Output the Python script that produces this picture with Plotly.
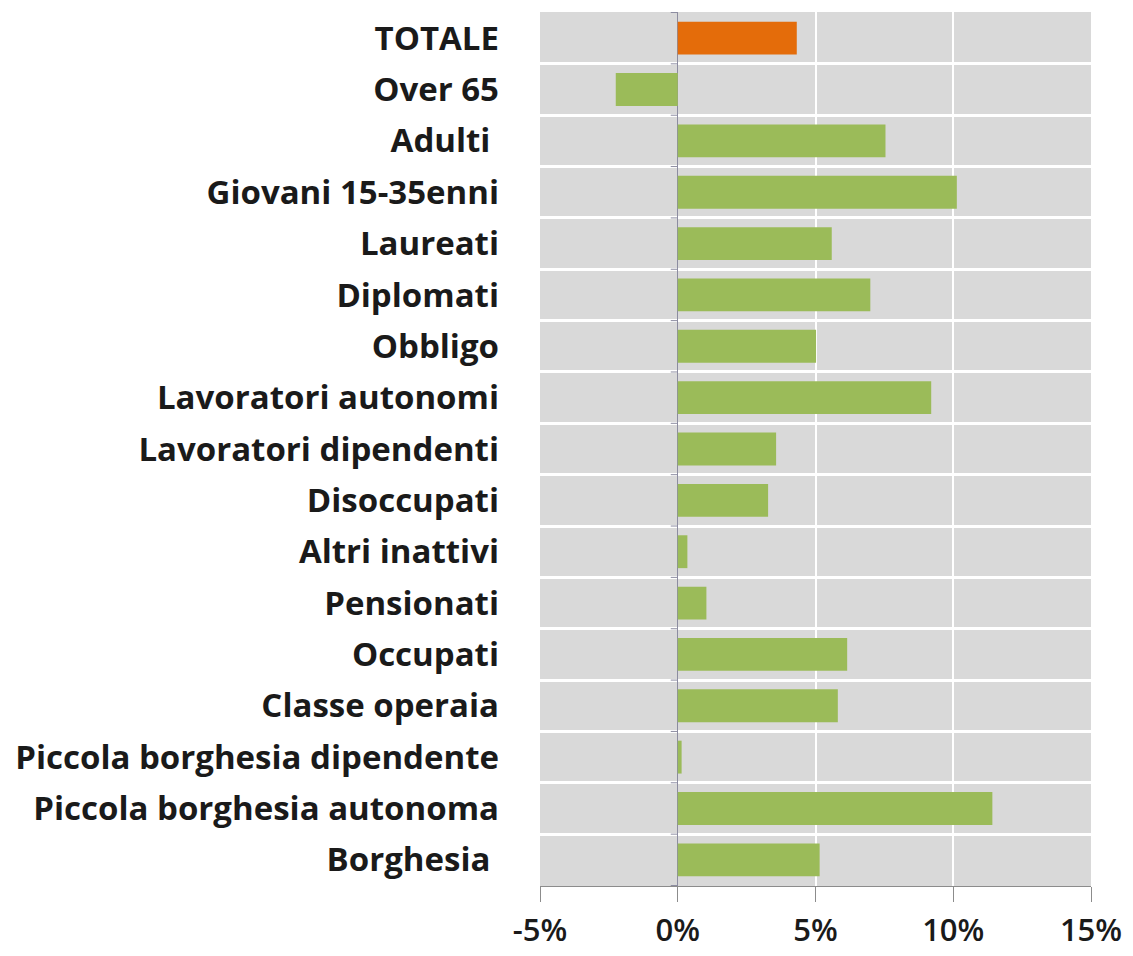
import plotly.graph_objects as go

categories = ["TOTALE", "Over 65", "Adulti ", "Giovani 15-35enni", "Laureati", "Diplomati",
              "Obbligo", "Lavoratori autonomi", "Lavoratori dipendenti", "Disoccupati",
              "Altri inattivi", "Pensionati", "Occupati", "Classe operaia",
              "Piccola borghesia dipendente", "Piccola borghesia autonoma", "Borghesia "]
values = [4.32, -2.25, 7.54, 10.13, 5.59, 6.99, 5.02, 9.2, 3.57, 3.28,
          0.35, 1.04, 6.15, 5.81, 0.14, 11.42, 5.15]
x_tickvals = [-5, 0, 5, 10, 15]
x_ticktext = ["-5%", "0%", "5%", "10%", "15%"]

GREEN = "#9BBB59"
ORANGE = "#E46C0A"
colors = [ORANGE if c == "TOTALE" else GREEN for c in categories]

fig = go.Figure(go.Bar(
    x=values, y=categories, orientation="h",
    marker=dict(color=colors, line=dict(width=0)),
    width=0.64,
))

shapes = []
for i in range(len(categories) + 1):
    shapes.append(dict(type="line", xref="x", yref="y", xsizemode="pixel", xanchor=0,
                       x0=-7, x1=0, y0=i - 0.5, y1=i - 0.5,
                       line=dict(color="#8C8CA0", width=1), layer="above"))

fig.update_layout(
    width=1133, height=956,
    margin=dict(l=532, r=50, t=4, b=78),
    plot_bgcolor="#D9D9D9", paper_bgcolor="white",
    showlegend=False,
    shapes=shapes,
    font=dict(family="'Open Sans', sans-serif", color="#1a1a1a"),
    xaxis=dict(
        range=[-5, 15], tickvals=x_tickvals, ticktext=x_ticktext,
        showgrid=True, gridcolor="white", gridwidth=1.5,
        zeroline=True, zerolinecolor="#8C8CA0", zerolinewidth=1.2,
        showline=True, linecolor="#8C8C8C", linewidth=1.2,
        ticks="outside", ticklen=15, tickcolor="#8C8C8C", tickwidth=1.2,
        ticklabelstandoff=2,
        tickfont=dict(size=31, family="'Open Sans', sans-serif", weight=600, color="#1a1a1a"),
        fixedrange=True,
    ),
    yaxis=dict(
        type="category", categoryorder="array", categoryarray=categories,
        autorange="reversed",
        tickson="boundaries", showgrid=True, gridcolor="white", gridwidth=2.5,
        ticks="", showline=False, zeroline=False,
        ticklabelstandoff=40,
        tickfont=dict(size=33, family="'Open Sans', sans-serif", weight="bold", color="#1a1a1a"),
    ),
)

fig.write_html("out.html")
